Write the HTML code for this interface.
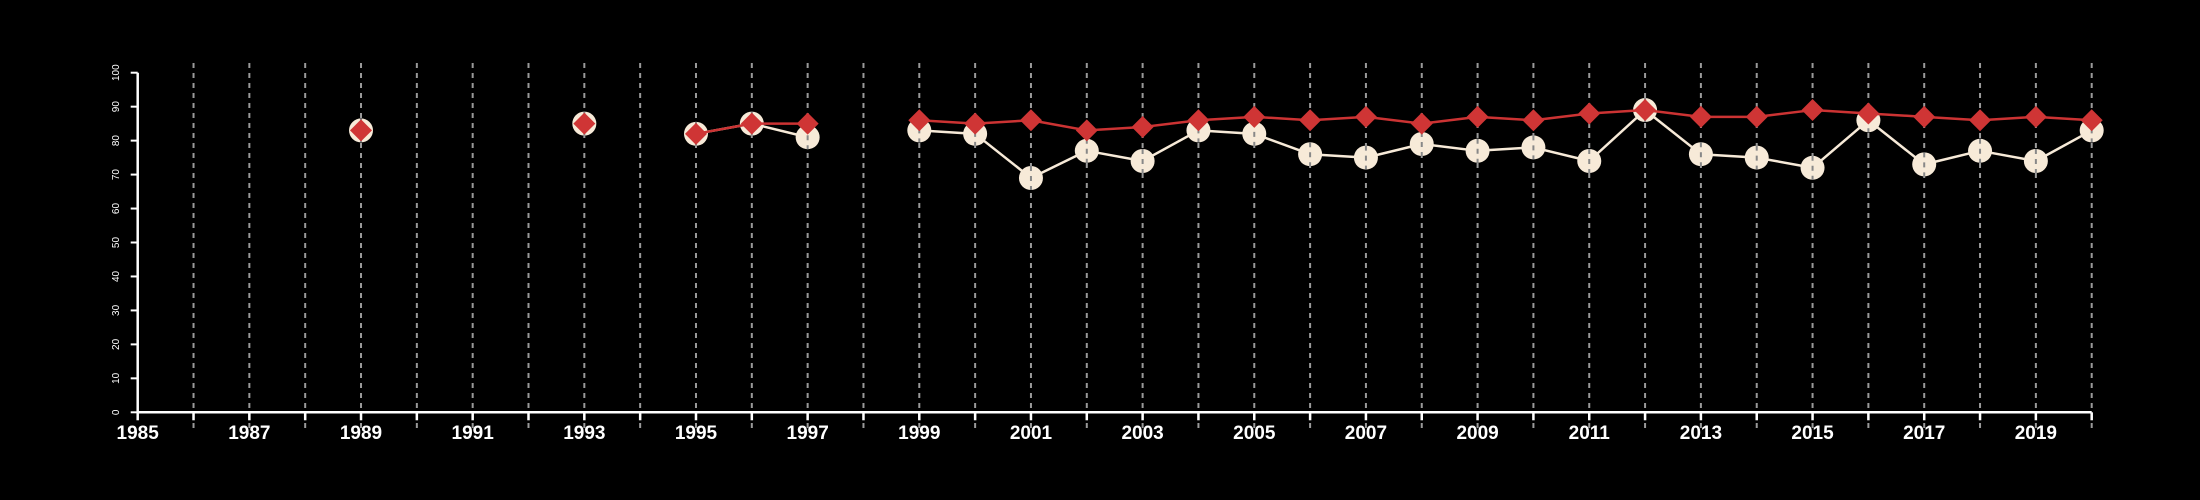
<!DOCTYPE html>
<html><head><meta charset="utf-8"><style>html,body{margin:0;background:#000;}svg{display:block}</style></head>
<body>
<svg id="chart" width="2200" height="500" xmlns="http://www.w3.org/2000/svg" style="background:#000;font-family:'Liberation Sans',sans-serif"></svg>
<script>
const years = [1989,1993,1995,1996,1997,1999,2000,2001,2002,2003,2004,2005,2006,2007,2008,2009,2010,2011,2012,2013,2014,2015,2016,2017,2018,2019,2020];
const seriesA = [83,85,82,85,81,83,82,69,77,74,83,82,76,75,79,77,78,74,89,76,75,72,86,73,77,74,83];
const seriesB = [83,85,82,85,85,86,85,86,83,84,86,87,86,87,85,87,86,88,89,87,87,89,88,87,86,87,86];
const yTicks = [0,10,20,30,40,50,60,70,80,90,100];
const xLabels = [1985,1987,1989,1991,1993,1995,1997,1999,2001,2003,2005,2007,2009,2011,2013,2015,2017,2019];
const NS='http://www.w3.org/2000/svg';
const svg=document.getElementById('chart');
const X=y=>137.7+(y-1985)*(2091.7-137.7)/35;
const Y=v=>412.3-v*(412.3-72.7)/100;
function mk(t,a,p){const e=document.createElementNS(NS,t);for(const k in a)e.setAttribute(k,a[k]);(p||svg).appendChild(e);return e;}
// grid
for(let yr=1986;yr<=2020;yr++){
  const g=mk('line',{x1:X(yr),x2:X(yr),y1:63,y2:428,stroke:'#9a9a9a','stroke-width':2,'stroke-dasharray':'5,5'});
  
  
}
// axes
const xa=mk('line',{x1:X(1985),x2:X(2020),y1:Y(0),y2:Y(0),stroke:'#fff','stroke-width':2.5});


const ya=mk('line',{x1:X(1985),x2:X(1985),y1:Y(0),y2:Y(100),stroke:'#fff','stroke-width':2.5});


for(let yr=1985;yr<=2020;yr++){mk('line',{x1:X(yr),x2:X(yr),y1:Y(0),y2:Y(0)+8,stroke:'#fff','stroke-width':2.5});}
xLabels.forEach(l=>{const t=mk('text',{x:X(l),y:439,fill:'#fff','font-size':19,'font-weight':'bold','text-anchor':'middle'});t.textContent=l;
  
  });
yTicks.forEach(v=>{mk('line',{x1:X(1985)-7,x2:X(1985),y1:Y(v),y2:Y(v),stroke:'#fff','stroke-width':2});
  const t=mk('text',{x:0,y:0,fill:'#fff','font-size':10,'text-anchor':'middle',transform:`translate(119,${Y(v)}) rotate(-90)`});t.textContent=v;
  
  });
function lines(vals,color,name){
  for(let i=1;i<years.length;i++){ if(years[i]-years[i-1]===1){
    const l=mk('line',{x1:X(years[i-1]),y1:Y(vals[i-1]),x2:X(years[i]),y2:Y(vals[i]),stroke:color,'stroke-width':2.5});
    
    }}
}
lines(seriesA,'#f7ead8','series-a-line');
years.forEach((yr,i)=>{const c=mk('circle',{cx:X(yr),cy:Y(seriesA[i]),r:12,fill:'#f7ead8'});
  
  
  mk('line',{x1:X(yr),x2:X(yr),y1:Y(seriesA[i])-12,y2:Y(seriesA[i])+12,stroke:'#888','stroke-width':2,'stroke-dasharray':'5,5'});});
lines(seriesB,'#cc3333','series-b-line');
years.forEach((yr,i)=>{const x=X(yr),y=Y(seriesB[i]);const d=mk('polygon',{points:`${x},${y-11} ${x+11},${y} ${x},${y+11} ${x-11},${y}`,fill:'#cf3535'});
  
  });
</script>
</body></html>
